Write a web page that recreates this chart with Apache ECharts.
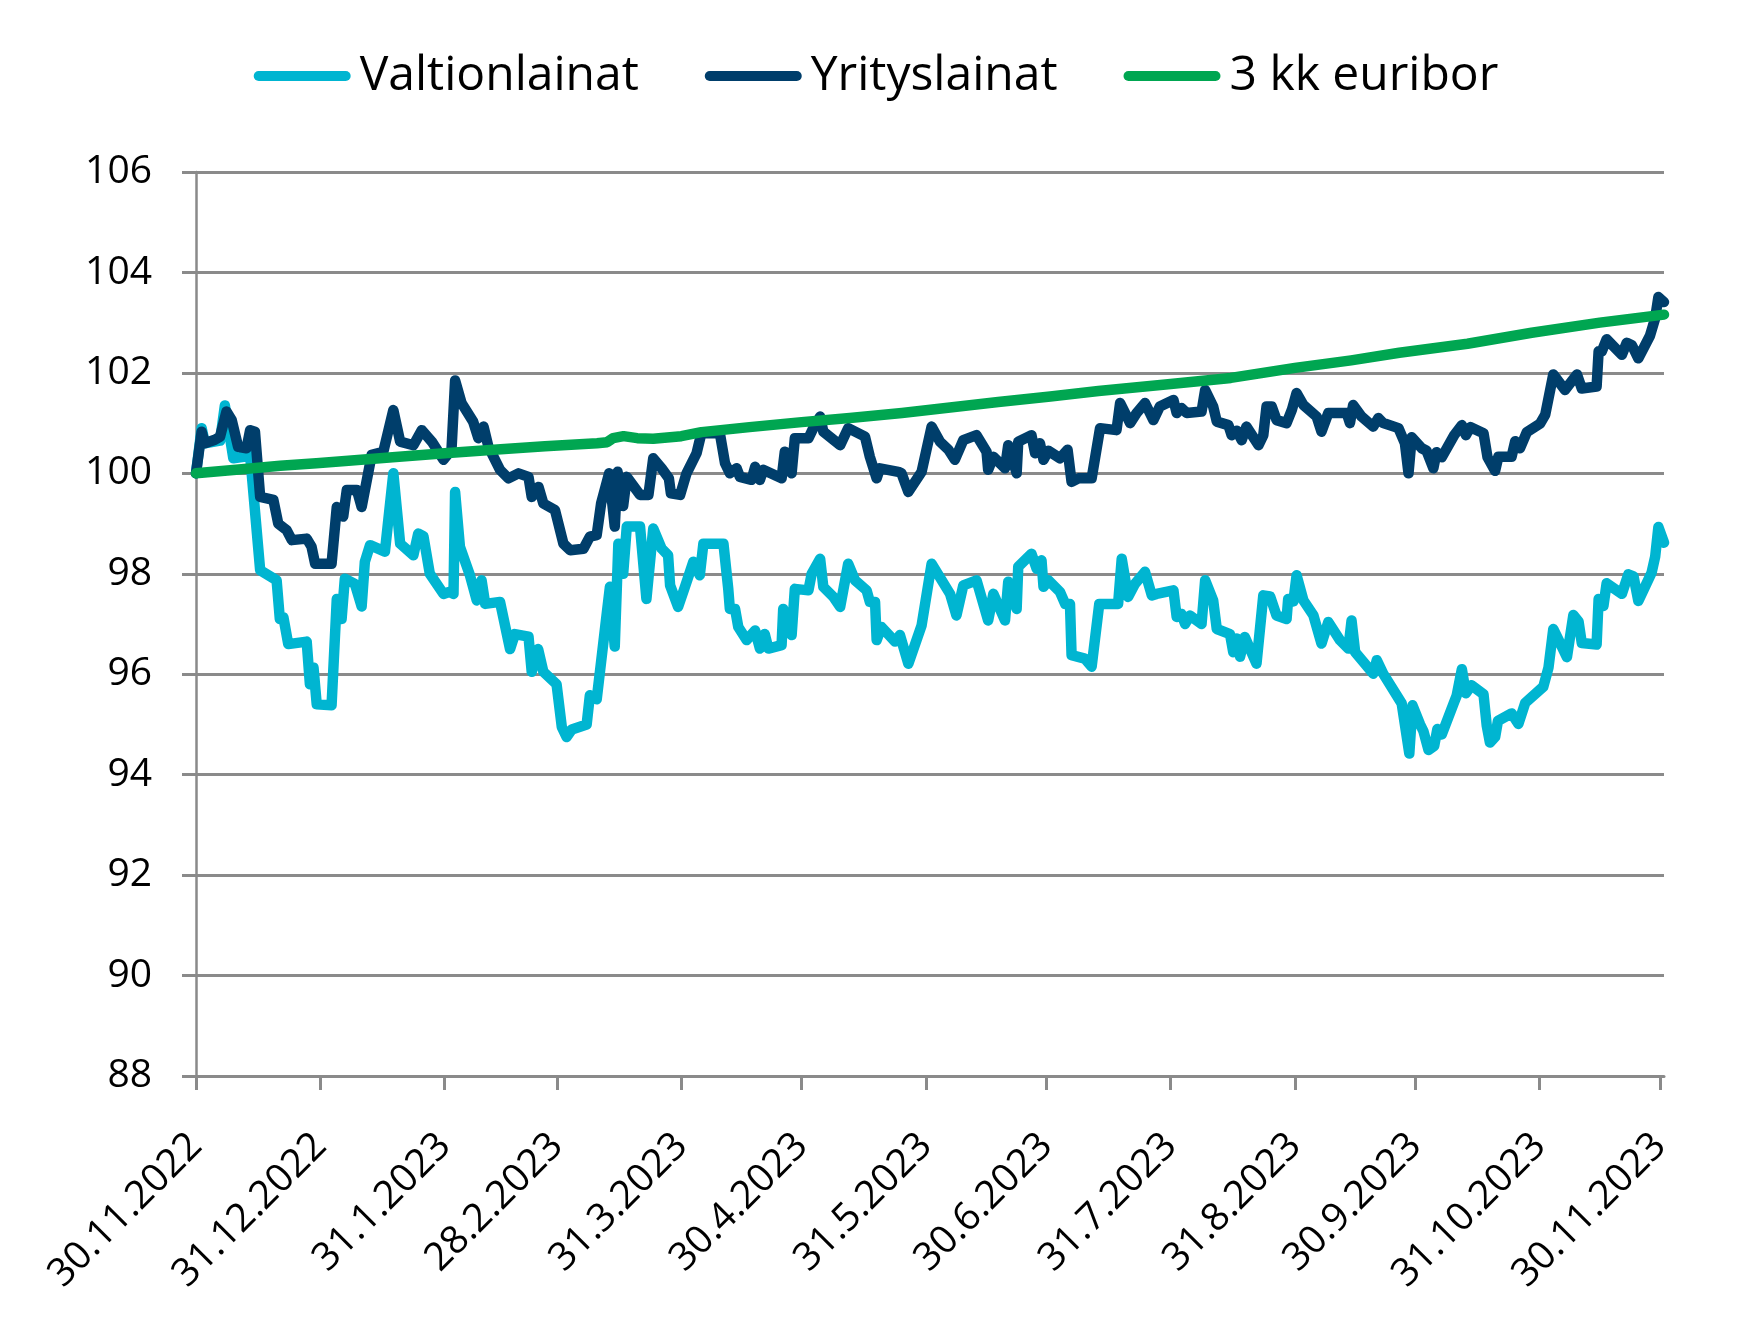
<!DOCTYPE html>
<html>
<head>
<meta charset="utf-8">
<script src="https://cdn.jsdelivr.net/npm/echarts@6/dist/echarts.min.js"></script>
<style>
html,body{margin:0;padding:0;background:#fff;}
#chart{width:1752px;height:1323px;}
</style>
</head>
<body>
<div id="chart"></div>
<script>
// x values are days since 30.11.2022
const tickDays = [0, 31, 62, 90, 121, 151, 182, 212, 243, 274, 304, 335, 365];
const tickLabels = ['30.11.2022','31.12.2022','31.1.2023','28.2.2023','31.3.2023','30.4.2023','31.5.2023','30.6.2023','31.7.2023','31.8.2023','30.9.2023','31.10.2023','30.11.2023'];
const seriesNames = ['Valtionlainat', 'Yrityslainat', '3 kk euribor'];

const valtionDays = [0,1.4,2.2,6,7.2,9.3,13.5,16,20.1,20.9,21.8,23,27.6,28.4,29.3,30.1,33.8,35.1,36.3,37.1,39.6,41.3,42.1,43.4,47.1,49.2,50.9,54.2,55.4,56.7,58.3,61.7,63.3,64.2,64.6,65.8,68.3,70,71.2,72.1,75.8,78.3,79.5,82.9,83.7,85.3,86.6,89.9,91.2,92.4,93.7,97.4,98.2,99.9,102.4,103.2,104.4,105.3,106.5,107.4,110.7,112.3,114,116.1,117.7,118.2,120.2,121.9,124,125.6,126.5,131.5,132.7,133.1,134.4,135.2,137.3,139.4,140.6,141.8,142.7,146,146.4,148.5,149.3,152.7,153.5,155.6,156.4,158.9,160.6,162.6,164.3,167.2,168,169.3,169.7,170.9,174.3,175.5,177.6,180.9,183.4,188,189.6,191.3,194.6,197.5,198.8,201.7,202.5,204.6,205,208.3,209.6,210.8,211.3,212.5,215.4,216.7,217.9,218.3,221.6,223.3,225.2,229.9,230.8,232.4,234.1,236.6,238.3,239.5,243.7,244.5,245.7,246.6,247.8,250.7,251.6,253.6,254.5,257.8,258.6,259.5,260.3,261.5,264.4,266.1,267.8,269.4,271.9,272.3,273.6,274.4,276.1,278.6,280.6,282.3,285.2,287.3,288.1,289,293.5,294.4,296,300.6,302.5,303.3,305.2,306,307.3,308.7,309.5,310.6,313.7,314.3,315.6,316.6,318,321,321.8,322.6,323.9,324.6,328,329.7,331.4,335.9,337.2,338.4,341.8,343.4,344.7,345.5,349.2,349.7,350.9,351.7,355.5,357.1,358.4,359.6,362.9,363.8,364.6,366];
const valtionValues = [100.0,100.9,100.6,100.65,101.35,100.3,100.35,98.07,97.87,97.1,97.13,96.6,96.65,95.8,96.13,95.4,95.38,97.5,97.1,97.9,97.8,97.35,98.24,98.57,98.44,100.0,98.6,98.37,98.8,98.75,98.0,97.6,97.64,97.6,99.63,98.54,97.97,97.47,97.87,97.4,97.44,96.5,96.8,96.75,96.05,96.5,96.05,95.8,94.95,94.75,94.9,95.0,95.58,95.5,97.2,97.74,96.55,98.6,98.0,98.94,98.94,97.5,98.9,98.5,98.37,97.77,97.34,97.74,98.24,97.97,98.6,98.6,97.7,97.3,97.3,96.94,96.68,96.87,96.51,96.8,96.51,96.58,97.3,96.78,97.7,97.67,98.0,98.3,97.74,97.54,97.34,98.2,97.87,97.67,97.44,97.44,96.68,96.94,96.65,96.78,96.21,96.97,98.2,97.6,97.17,97.77,97.87,97.07,97.6,97.07,97.84,97.3,98.14,98.4,98.1,98.27,97.74,97.87,97.64,97.4,97.4,96.38,96.31,96.15,97.4,97.4,98.3,97.54,97.8,98.04,97.57,97.6,97.67,97.14,97.2,97.0,97.17,97.0,97.87,97.47,96.9,96.8,96.44,96.71,96.35,96.74,96.21,97.57,97.55,97.17,97.1,97.5,97.45,97.97,97.47,97.17,96.61,97.04,96.68,96.51,97.07,96.44,96.01,96.28,96.01,95.42,94.42,95.38,95.0,94.87,94.49,94.57,94.91,94.8,95.45,95.57,96.1,95.62,95.78,95.6,94.98,94.64,94.75,95.07,95.22,95.01,95.43,95.75,96.13,96.9,96.34,97.18,97.05,96.62,96.59,97.5,97.36,97.81,97.6,97.99,97.95,97.46,98.02,98.34,98.93,98.62];

const yritysDays = [0,1.4,2.2,4.7,6,7.6,8.9,10.5,12.6,13.5,14.7,16,19.3,20.5,22.6,23.9,27.6,28.8,29.7,33.8,35.1,36.7,37.6,40.1,41.3,43.8,46.7,49.2,50.9,54.2,56.3,58.8,61.7,63.7,64.6,66.2,69.1,70.4,71.7,72.9,75.8,77.9,80.4,82.9,83.7,85.4,86.6,89.5,91.6,93.3,96.6,98.2,99.9,101,103,104.4,105.1,106.5,107.4,110.7,112.8,114,116.1,117.9,118.4,120.7,122.3,124.8,126,130.6,131.9,133.1,134.8,135.6,138.5,139.4,140.6,141.4,146,146.8,148.5,149.3,152.7,153.9,155.6,156.4,160.6,162.6,166.8,168,169.7,170.5,175.1,175.9,177.6,180.9,183.4,185.5,187.6,189.2,191.3,194.6,197.1,197.5,198.8,201.7,202.5,204.6,205,208.3,209.2,210.4,211.3,212.5,215.4,217.3,218.3,220,223.3,225.4,229.5,230.4,232.9,234.5,236.6,238.7,240.3,243.7,244.5,245.7,247,250.7,251.6,253.6,254.5,257.4,258.2,259.5,260.7,261.9,264.9,266.1,266.9,268.2,269.4,271.9,273.2,274.4,276.1,279.4,280.6,282.3,286.9,287.7,288.5,290.6,293.5,294.8,296,299.8,301.4,302.3,303.1,305.6,306.8,308.5,309.3,310.6,313.7,315.6,316.6,317.7,321,322,323.9,324.7,328,328.9,330.1,331.8,335.1,336.4,338.4,341.3,344.3,345.5,349.2,349.7,350.5,351.7,355.5,356.7,358,359.6,362.5,363.8,364.6,366];
const yritysValues = [100.0,100.83,100.6,100.67,100.73,101.23,101.06,100.53,100.5,100.86,100.83,99.53,99.47,99.0,98.87,98.67,98.7,98.54,98.2,98.2,99.33,99.14,99.67,99.67,99.33,100.37,100.43,101.26,100.63,100.56,100.86,100.63,100.27,100.47,101.85,101.4,101.03,100.7,100.93,100.53,100.07,99.9,100.0,99.93,99.53,99.73,99.4,99.27,98.6,98.47,98.5,98.74,98.77,99.4,100.0,98.94,100.03,99.35,99.93,99.57,99.57,100.3,100.1,99.9,99.6,99.57,100.0,100.4,100.8,100.8,100.2,100.0,100.1,99.93,99.87,100.13,99.87,100.07,99.9,100.43,100.0,100.7,100.7,100.9,101.13,100.83,100.56,100.9,100.73,100.33,99.9,100.1,100.03,100.0,99.63,100.03,100.93,100.63,100.47,100.27,100.66,100.76,100.43,100.07,100.33,100.1,100.56,100.0,100.63,100.76,100.4,100.6,100.27,100.45,100.3,100.47,99.83,99.9,99.9,100.9,100.86,101.4,101.0,101.2,101.4,101.06,101.33,101.46,101.2,101.3,101.2,101.23,101.66,101.33,101.03,100.96,100.76,100.85,100.66,100.93,100.56,100.76,101.33,101.33,101.06,101.0,101.26,101.6,101.36,101.13,100.83,101.2,101.2,101.0,101.36,101.13,100.93,101.1,101.0,100.9,100.6,100.0,100.72,100.5,100.45,100.1,100.42,100.32,100.76,100.96,100.76,100.92,100.8,100.32,100.05,100.33,100.33,100.64,100.5,100.82,100.99,101.17,101.97,101.66,101.97,101.69,101.73,102.43,102.43,102.67,102.36,102.6,102.55,102.29,102.74,103.09,103.51,103.41];

const euriborDays = [0,10,21,30,38,49,62,76,87,100,102.5,104,106.6,110,114,121,126,138,151,163,176,188,200,213,225,243,258,274,288,300,317,333,350,366];
const euriborValues = [100.0,100.07,100.15,100.2,100.25,100.32,100.4,100.48,100.54,100.6,100.62,100.7,100.74,100.7,100.69,100.74,100.82,100.92,101.02,101.1,101.2,101.31,101.42,101.53,101.64,101.78,101.9,102.1,102.25,102.4,102.58,102.8,103.0,103.16];

const yTicks = {min: 88, max: 106, interval: 2};

function pairs(xs, ys) { return xs.map((x, i) => [x, ys[i]]); }

const colors = ['#00b5d1', '#003e6b', '#00a651'];
const gray = '#8a8a8a';
const font = 'Open Sans';

const chart = echarts.init(document.getElementById('chart'), null, {renderer: 'canvas'});
const capsule = 'path://M5,0 L92,0 A5,5 0 0 1 92,10 L5,10 A5,5 0 0 1 5,0 Z';

chart.setOption({
  animation: false,
  color: colors,
  textStyle: {fontFamily: font},
  legend: {
    top: 47,
    left: 'center',
    itemWidth: 97,
    itemHeight: 10,
    itemGap: 66,
    data: seriesNames.map((n) => ({name: n, icon: capsule})),
    textStyle: {fontSize: 48, color: '#000', fontFamily: font, padding: [0, 0, 0, 4]}
  },
  grid: {left: 196, top: 172, width: 1468, height: 904, containLabel: false, outerBoundsMode: 'none'},
  xAxis: {
    type: 'value',
    min: 0,
    max: 366,
    splitLine: {show: false},
    axisLine: {show: true, lineStyle: {color: gray, width: 3}},
    axisTick: {show: true, length: 14, lineStyle: {color: gray, width: 3}, customValues: tickDays},
    axisLabel: {
      customValues: tickDays,
      rotate: 45,
      margin: 64,
      fontSize: 39,
      color: '#000',
      fontFamily: font,
      formatter: (v) => { const i = tickDays.indexOf(v); return i >= 0 ? tickLabels[i] : ''; }
    }
  },
  yAxis: {
    type: 'value',
    min: yTicks.min,
    max: yTicks.max,
    interval: yTicks.interval,
    axisLine: {show: true, lineStyle: {color: gray, width: 2.5}},
    axisTick: {show: true, length: 14, lineStyle: {color: gray, width: 3}},
    splitLine: {show: true, lineStyle: {color: gray, width: 3}},
    axisLabel: {fontSize: 39, color: '#000', margin: 44, fontFamily: font}
  },
  series: [
    {name: seriesNames[0], type: 'line', data: pairs(valtionDays, valtionValues), showSymbol: false, symbol: 'none',
     lineStyle: {width: 10.5, color: colors[0], cap: 'round', join: 'round'}},
    {name: seriesNames[1], type: 'line', data: pairs(yritysDays, yritysValues), showSymbol: false, symbol: 'none',
     lineStyle: {width: 10.5, color: colors[1], cap: 'round', join: 'round'}},
    {name: seriesNames[2], type: 'line', data: pairs(euriborDays, euriborValues), showSymbol: false, symbol: 'none',
     lineStyle: {width: 10.5, color: colors[2], cap: 'round', join: 'round'}}
  ]
});
</script>
</body>
</html>
